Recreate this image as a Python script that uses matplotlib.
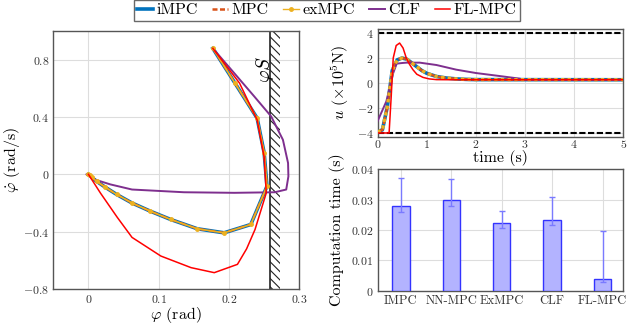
import matplotlib
matplotlib.use("Agg")
import matplotlib.pyplot as plt
from matplotlib.ticker import FixedLocator, FuncFormatter
from matplotlib.lines import Line2D
import numpy as np

plt.rcParams['font.family'] = ['cmr10', 'DejaVu Serif']
plt.rcParams['mathtext.fontset'] = 'cm'
plt.rcParams['axes.unicode_minus'] = False
plt.rcParams['axes.formatter.use_mathtext'] = True
plt.rcParams['hatch.linewidth'] = 0.8

# ---------------- data ----------------
series_names = ["iMPC", "MPC", "exMPC", "CLF", "FL-MPC"]

# phase portrait (phi [rad], phi_dot [rad/s])
impc_phi = [0.177, 0.208, 0.240, 0.250, 0.254, 0.231, 0.193, 0.155, 0.117, 0.088, 0.062, 0.040, 0.024, 0.012, 0.005, 0.002, 0.0]
impc_dphi = [0.879, 0.640, 0.392, 0.150, -0.083, -0.350, -0.408, -0.380, -0.315, -0.257, -0.200, -0.140, -0.090, -0.050, -0.022, -0.008, 0.0]
mpc_phi = [0.177, 0.208, 0.240, 0.250, 0.254, 0.231, 0.193, 0.155, 0.117, 0.088, 0.062, 0.040, 0.024, 0.012, 0.005, 0.002, 0.0]
mpc_dphi = [0.879, 0.640, 0.392, 0.150, -0.083, -0.350, -0.408, -0.380, -0.315, -0.257, -0.200, -0.140, -0.090, -0.050, -0.022, -0.008, 0.0]
exmpc_phi = [0.177, 0.208, 0.240, 0.250, 0.254, 0.231, 0.193, 0.155, 0.117, 0.088, 0.062, 0.040, 0.024, 0.012, 0.005, 0.002, 0.0]
exmpc_dphi = [0.879, 0.640, 0.392, 0.150, -0.083, -0.350, -0.408, -0.380, -0.315, -0.257, -0.200, -0.140, -0.090, -0.050, -0.022, -0.008, 0.0]
clf_phi = [0.177, 0.2076, 0.236, 0.260, 0.2767, 0.284, 0.2845, 0.2814, 0.265, 0.2076, 0.136, 0.062, 0.031, 0.0076, -0.003, 0.0]
clf_dphi = [0.879, 0.705, 0.543, 0.404, 0.241, 0.079, -0.014, -0.106, -0.125, -0.129, -0.125, -0.106, -0.070, -0.034, 0.0, 0.0]
fl_phi = [0.177, 0.215, 0.240, 0.250, 0.253, 0.237, 0.225, 0.212, 0.179, 0.146, 0.103, 0.062, 0.041, 0.017, 0.0]
fl_dphi = [0.879, 0.636, 0.380, 0.120, -0.130, -0.385, -0.520, -0.628, -0.686, -0.651, -0.570, -0.440, -0.300, -0.130, 0.0]
phi_s = 0.259

# control input u(t) [x1e5 N]
impc_t = [0, 0.1, 0.2, 0.3, 0.4, 0.5, 0.6, 0.7, 0.8, 0.9, 1.0, 1.2, 1.4, 1.6, 1.8, 2.0, 5.0]
impc_u = [-3.92, -3.75, -1.9, 1.0, 1.85, 2.0, 1.9, 1.6, 1.3, 1.0, 0.78, 0.52, 0.40, 0.33, 0.29, 0.27, 0.26]
mpc_t = impc_t
mpc_u = [-3.92, -3.75, -1.9, 1.0, 1.85, 2.0, 1.9, 1.6, 1.3, 1.0, 0.78, 0.52, 0.40, 0.33, 0.29, 0.27, 0.26]
exmpc_t = impc_t
exmpc_u = [-3.92, -3.75, -1.9, 1.0, 1.85, 2.0, 1.9, 1.6, 1.3, 1.0, 0.78, 0.52, 0.40, 0.33, 0.29, 0.27, 0.26]
clf_t = [0, 0.18, 0.32, 0.39, 0.5, 0.59, 0.86, 1.2, 1.6, 2.0, 2.5, 2.89, 3.0, 5.0]
clf_u = [-3.07, -1.47, 0.8, 1.55, 1.6, 1.63, 1.63, 1.44, 1.07, 0.8, 0.55, 0.35, 0.26, 0.26]
fl_t = [0, 0.236, 0.28, 0.32, 0.38, 0.45, 0.52, 0.586, 0.65, 0.72, 0.8, 0.925, 1.05, 1.2, 1.5, 5.0]
fl_u = [-4.0, -4.0, -1.0, 2.0, 3.0, 3.2, 2.8, 2.0, 1.5, 1.07, 0.7, 0.45, 0.33, 0.27, 0.26, 0.26]
u_bound = 4.0

# computation time
methods = ["IMPC", "NN-MPC", "ExMPC", "CLF", "FL-MPC"]
comp_mean = [0.0280, 0.0298, 0.0222, 0.0234, 0.0038]
comp_low = [0.0258, 0.0280, 0.0208, 0.0216, 0.0029]
comp_high = [0.0372, 0.0369, 0.0262, 0.0309, 0.0198]

# ---------------- style ----------------
c_impc = "#0072BD"
c_mpc = "#D95319"
c_ex = "#EDB120"
c_clf = "#7E2F8E"
c_fl = "#FF0000"
tick_fs = 8.5
lab_fs = 11.5
grid_c = "#dddddd"
spine_c = "#555555"

def mfmt(v, pos):
    if abs(v) < 1e-12:
        return r"$0$"
    return r"$%g$" % v

def style(ax):
    ax.grid(True, color=grid_c, lw=0.8)
    ax.set_axisbelow(True)
    for s in ax.spines.values():
        s.set_color(spine_c)
        s.set_linewidth(1.0)
    ax.tick_params(labelsize=tick_fs, colors="#333333", length=0, pad=3)

fig = plt.figure(figsize=(6.3, 3.26), dpi=100)

# ---- left: phase portrait ----
ax1 = fig.add_axes([53.3/630, 37/326, 246/630, 258/326])
style(ax1)
ax1.plot(impc_phi, impc_dphi, color=c_impc, lw=2.6, zorder=3)
ax1.plot(mpc_phi, mpc_dphi, color=c_mpc, lw=1.6, ls=(0, (3, 1.5)), zorder=3)
ax1.plot(exmpc_phi, exmpc_dphi, color=c_ex, lw=1.2, marker='o', ms=2.5, zorder=4)
ax1.plot(clf_phi, clf_dphi, color=c_clf, lw=1.4, zorder=3)
ax1.plot(fl_phi, fl_dphi, color=c_fl, lw=1.1, zorder=5)
ax1.axvspan(phi_s, 0.272, facecolor="none", edgecolor="#222222", hatch="\\\\\\\\", lw=0, zorder=2)
ax1.axvline(phi_s, color="#222222", lw=1.2, zorder=2)
ax1.text(0.2505, 0.73, r"$\varphi S$", rotation=90, fontsize=14, ha="center", va="center", zorder=6)
ax1.set_xlim(-0.05, 0.3)
ax1.set_ylim(-0.8, 1.0)
ax1.xaxis.set_major_locator(FixedLocator([0, 0.1, 0.2, 0.3]))
ax1.yaxis.set_major_locator(FixedLocator([-0.8, -0.4, 0, 0.4, 0.8]))
ax1.xaxis.set_major_formatter(FuncFormatter(mfmt))
ax1.yaxis.set_major_formatter(FuncFormatter(mfmt))
ax1.set_xlabel(r"$\varphi$ (rad)", fontsize=lab_fs, labelpad=0)
ax1.set_ylabel(r"$\dot{\varphi}$ (rad/s)", fontsize=lab_fs, labelpad=1)

# ---- top right: control input ----
ax2 = fig.add_axes([377.5/630, (326-136.7)/326, 245.8/630, 107.4/326])
style(ax2)
ax2.plot(impc_t, impc_u, color=c_impc, lw=2.6, zorder=3)
ax2.plot(mpc_t, mpc_u, color=c_mpc, lw=1.8, ls=(0, (3, 1.5)), zorder=3)
ax2.plot(exmpc_t, exmpc_u, color=c_ex, lw=2.4, ls=(0, (1, 1)), zorder=4)
ax2.plot(clf_t, clf_u, color=c_clf, lw=1.4, zorder=3)
ax2.plot(fl_t, fl_u, color=c_fl, lw=1.1, zorder=5)
ax2.axhline(u_bound, color="black", lw=1.5, ls=(0, (3, 1.2)), zorder=2)
ax2.axhline(-u_bound, color="black", lw=1.5, ls=(0, (3, 1.2)), zorder=2)
ax2.set_xlim(0, 5)
ax2.set_ylim(-4.3, 4.3)
ax2.xaxis.set_major_locator(FixedLocator([0, 1, 2, 3, 4, 5]))
ax2.yaxis.set_major_locator(FixedLocator([-4, -2, 0, 2, 4]))
ax2.xaxis.set_major_formatter(FuncFormatter(mfmt))
ax2.yaxis.set_major_formatter(FuncFormatter(mfmt))
ax2.tick_params(axis="x", pad=1)
ax2.set_xlabel("time (s)", fontsize=lab_fs, labelpad=0)
ax2.set_ylabel(r"$u$ ($\times 10^5$N)", fontsize=lab_fs, labelpad=4)

# ---- bottom right: computation time ----
ax3 = fig.add_axes([377.7/630, 35.3/326, 245.5/630, 121.4/326])
style(ax3)
x = np.arange(len(methods))
err = [np.array(comp_mean) - np.array(comp_low), np.array(comp_high) - np.array(comp_mean)]
ax3.bar(x, comp_mean, width=0.345, color="#b3b3ff", edgecolor="#3333ff", lw=1.0, zorder=3)
ax3.errorbar(x, comp_mean, yerr=err, fmt="none", ecolor="#7a7aff", elinewidth=1.0, capsize=2.5, capthick=1.0, zorder=4)
ax3.set_xlim(-0.46, 4.41)
ax3.set_ylim(0, 0.04)
ax3.set_xticks(x)
ax3.set_xticklabels(methods, fontsize=tick_fs + 0.5)
ax3.yaxis.set_major_locator(FixedLocator([0, 0.01, 0.02, 0.03, 0.04]))
ax3.yaxis.set_major_formatter(FuncFormatter(mfmt))
ax3.set_ylabel("Computation time (s)", fontsize=lab_fs, labelpad=4)

# ---- legend ----
handles = [
    Line2D([], [], color=c_impc, lw=2.6),
    Line2D([], [], color=c_mpc, lw=1.8, ls=(0, (2, 1))),
    Line2D([], [], color=c_ex, lw=1.0, marker='o', ms=2.5),
    Line2D([], [], color=c_clf, lw=1.4),
    Line2D([], [], color=c_fl, lw=1.1),
]
leg = fig.legend(handles, series_names, loc="upper center", bbox_to_anchor=(327/630, 1.0),
                 ncol=5, fontsize=11.5, frameon=True, fancybox=False, handlelength=1.0,
                 handletextpad=0.2, columnspacing=0.9, borderpad=0.2, borderaxespad=0.0)
leg.get_frame().set_edgecolor("#444444")
leg.get_frame().set_linewidth(1.0)

fig.savefig("out.png", dpi=100)
